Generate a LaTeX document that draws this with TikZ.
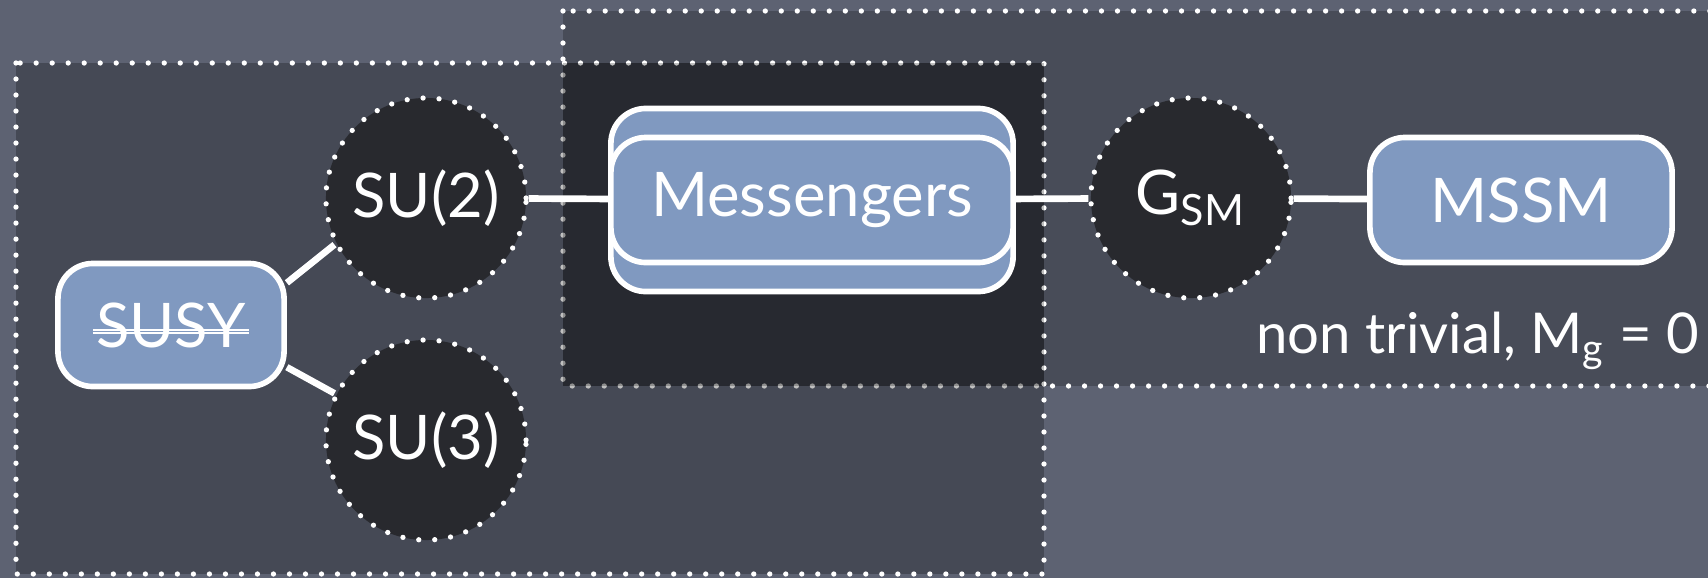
\documentclass[tikz,border=0pt]{standalone}
\usepackage{fontspec}
\setmainfont{Lato}
\usepackage{xcolor}
\usepackage{tikz}
\usetikzlibrary{positioning, calc}

\definecolor{slate}{RGB}{93,98,114}
\definecolor{darkfill}{RGB}{40,41,46}
\definecolor{boxblue}{RGB}{128,153,192}
\newcommand{\lblfont}{\fontsize{17.5}{20}\selectfont}
\newcommand{\notefont}{\fontsize{16}{18}\selectfont}

\begin{document}
\begin{tikzpicture}[
    x=0.01cm, y=-0.01cm,
    link/.style={white, line width=1.9pt},
    group box/.style={draw=white, line width=1.5pt, line cap=round,
        dash pattern=on 0pt off 0.16cm, fill=black},
    gauge/.style={circle, draw=white, fill=darkfill, minimum size=2cm,
        line width=1.5pt, line cap=round, dash pattern=on 0pt off 0.16cm,
        text=white, font=\lblfont},
    model/.style={rectangle, rounded corners=0.35cm, draw=white, line width=1.6pt,
        fill=boxblue, text=white, font=\lblfont, inner sep=0pt}
]

\tikzset{strike/.style={white, line width=0.4pt}}

% --- background ---
\clip (0,0) rectangle (1708,578);
\fill[slate] (0,0) rectangle (1708,578);

% --- 1. Groups ---
\draw[group box, fill opacity=0.22] (563,11) rectangle (1730,386);
\draw[group box, fill opacity=0.25] (16,63) rectangle (1044,574);
% overlap is darker
\fill[black, opacity=0.25] (563,63) rectangle (1044,386);

% --- 2. Gauge groups ---
\node[gauge] (su2) at (426,198) {SU(2)};
\node[gauge] (su3) at (426,440) {SU(3)};
\node[gauge] (gsm) at (1191,198) {G\textsubscript{SM}};

% --- 3. Sectors ---
\node[model, minimum width=2.26cm, minimum height=1.23cm] (susy) at (171,325) {SUSY};
\node[model, minimum width=4.02cm, minimum height=1.83cm] (msg) at (812,200) {};
\node[model, minimum width=4.02cm, minimum height=1.25cm] (msgin) at (812,200) {Messengers};
\node[model, minimum width=3.02cm, minimum height=1.25cm] (mssm) at (1521,200) {MSSM};

\node[text=white, font=\notefont, anchor=east, inner sep=0pt] (ntriv) at (1700,341) {non trivial, M\textsubscript{g} = 0};

% broken susy
\draw[strike] ($(susy.center)+(-78,5)$) -- ++(156,0);
\draw[strike] ($(susy.center)+(-78,8)$) -- ++(156,0);

% --- 4. Links ---
\draw[link] (susy.20) -- (su2.207);
\draw[link] (susy.-20) -- (su3.153);
\draw[link] (su2) -- (msg);
\draw[link] (msg) -- (gsm);
\draw[link] (gsm) -- (mssm);

\end{tikzpicture}
\end{document}
